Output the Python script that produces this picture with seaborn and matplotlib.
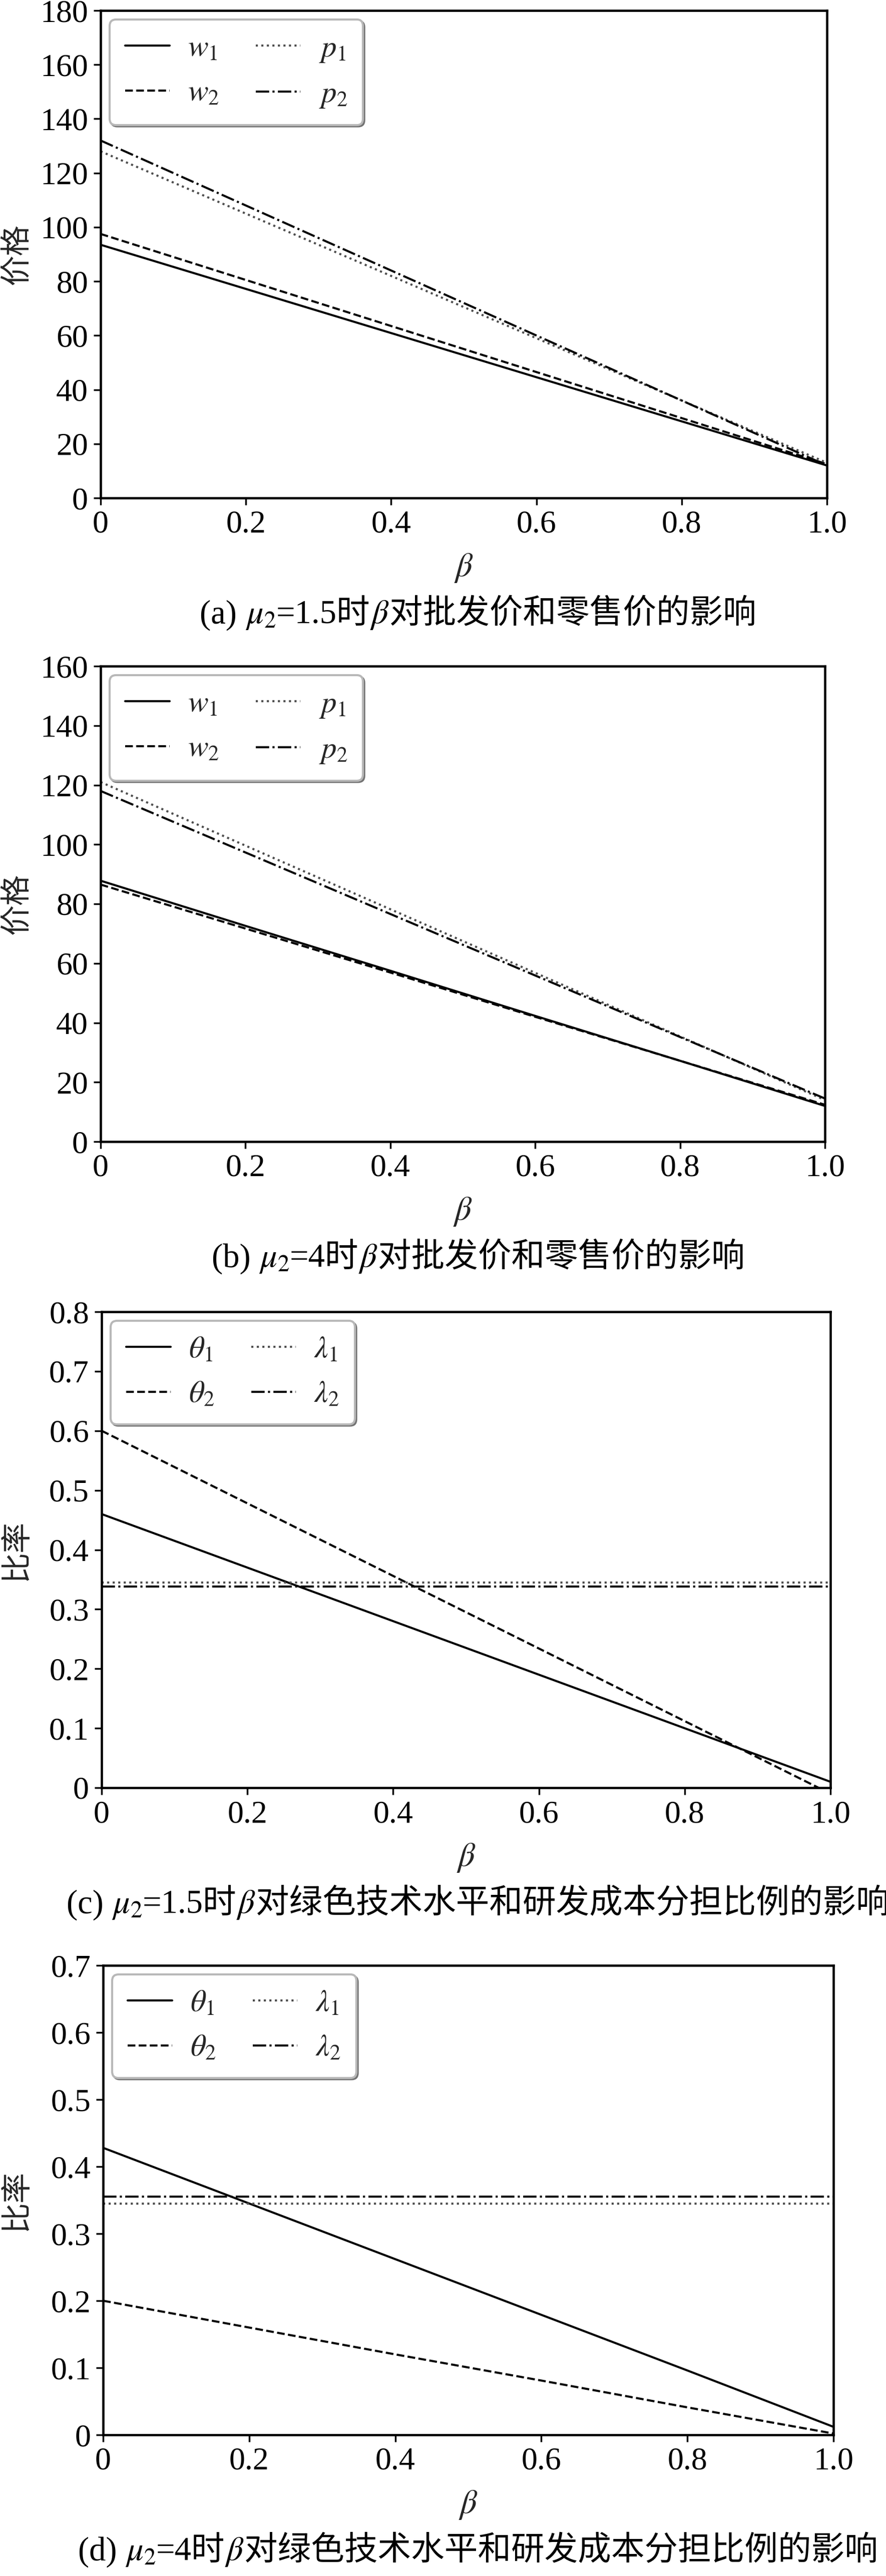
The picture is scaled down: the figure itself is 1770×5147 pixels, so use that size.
import matplotlib
matplotlib.use('Agg')
import matplotlib.pyplot as plt
import seaborn as sns
from matplotlib.offsetbox import TextArea, HPacker, AnchoredOffsetbox

# beta values read along the x axis
beta = [0, 0.2, 0.4, 0.6, 0.8, 1.0]

# (a) mu2 = 1.5, prices
a_w1 = [93.5, 77.2, 60.9, 44.6, 28.3, 12.0]
a_w2 = [97.5, 80.5, 63.5, 46.5, 29.5, 12.5]
a_p1 = [128.0, 105.0, 82.0, 59.0, 36.0, 13.0]
a_p2 = [132.0, 108.0, 84.0, 60.0, 36.0, 12.0]

# (b) mu2 = 4, prices
b_w1 = [87.8, 72.6, 57.5, 42.3, 27.2, 12.0]
b_w2 = [86.5, 71.7, 56.9, 42.0, 27.2, 12.4]
b_p1 = [121.0, 99.6, 78.2, 56.8, 35.4, 14.0]
b_p2 = [118.0, 97.3, 76.6, 55.9, 35.2, 14.5]

# (c) mu2 = 1.5, ratios
c_t1 = [0.460, 0.370, 0.280, 0.190, 0.100, 0.010]
c_t2 = [0.600, 0.478, 0.356, 0.234, 0.112, -0.010]
c_l1 = [0.345, 0.345, 0.345, 0.345, 0.345, 0.345]
c_l2 = [0.338, 0.338, 0.338, 0.338, 0.338, 0.338]

# (d) mu2 = 4, ratios
d_t1 = [0.428, 0.345, 0.262, 0.179, 0.096, 0.012]
d_t2 = [0.200, 0.160, 0.120, 0.081, 0.041, 0.002]
d_l1 = [0.345, 0.345, 0.345, 0.345, 0.345, 0.345]
d_l2 = [0.355, 0.355, 0.355, 0.355, 0.355, 0.355]

price_labels = [r'$w_1$', r'$w_2$', r'$p_1$', r'$p_2$']
ratio_labels = [r'$\theta_1$', r'$\theta_2$', r'$\lambda_1$', r'$\lambda_2$']
xtick_labels = ['0', '0.2', '0.4', '0.6', '0.8', '1.0']

sns.set_theme(style='ticks')
plt.rcParams['font.family'] = ['Liberation Serif', 'Noto Sans CJK SC']
plt.rcParams['mathtext.fontset'] = 'stix'

W, H = 1770, 5147
fig = plt.figure(figsize=(W / 100, H / 100), dpi=100)

SERIF = ['Liberation Serif', 'Noto Sans CJK SC']
CJK = ['Noto Sans CJK SC', 'DejaVu Sans']


def make_ax(l, t, r, b):
    return fig.add_axes([l / W, 1 - b / H, (r - l) / W, (b - t) / H])


def draw(box, series, labels, ymax, ystep, ylab, caption):
    l, t, r, b = box
    ax = make_ax(l, t, r, b)
    styles = ['-', '--', ':', '-.']
    colors = ['black', 'black', '0.3', 'black']
    for vals, lab, ls, c in zip(series, labels, styles, colors):
        sns.lineplot(x=beta, y=vals, ax=ax, color=c, linestyle=ls,
                     linewidth=3, label=lab)
    ax.set_xlim(0, 1)
    ax.set_ylim(0, ymax)
    ax.set_xticks(beta)
    ax.set_xticklabels(xtick_labels)
    n = int(round(ymax / ystep))
    yt = [i * ystep for i in range(n + 1)]
    ax.set_yticks(yt)
    if ystep >= 1:
        ax.set_yticklabels([f'{v:.0f}' for v in yt])
    else:
        ax.set_yticklabels(['0'] + [f'{v:.1f}' for v in yt[1:]])
    ax.tick_params(direction='out', length=10, width=2.5, labelsize=46,
                   pad=8, color='black', labelcolor='black')
    for sp in ax.spines.values():
        sp.set_color('black')
        sp.set_linewidth(3.3)
    ax.grid(False)

    leg = ax.legend(ncol=2, loc='upper left', fontsize=44, frameon=True,
                    fancybox=True, shadow={'color': '0.45', 'alpha': 1},
                    edgecolor='0.72', framealpha=1, handlelength=1.45,
                    handletextpad=0.6, columnspacing=1.2, borderaxespad=0.3,
                    borderpad=0.5, labelspacing=0.55)
    leg.get_frame().set_linewidth(3)

    axw, axh = r - l, b - t
    ax.set_xlabel(r'$\beta$', fontsize=48)
    ax.xaxis.set_label_coords(0.5, -108 / axh)
    ax.set_ylabel(ylab, fontsize=44, family=CJK)
    ax.yaxis.set_label_coords(-(l - 64) / axw, 0.5)

    # caption under the panel
    areas = []
    for txt, fam in caption:
        props = dict(fontsize=48, color='black')
        if fam is not None:
            props['family'] = fam
        areas.append(TextArea(txt, textprops=props))
    pack = HPacker(children=areas, align='baseline', pad=0, sep=0)
    cy = b + 232
    anch = AnchoredOffsetbox(loc='center', child=pack, frameon=False, pad=0,
                             borderpad=0, bbox_to_anchor=(955 / W, 1 - cy / H),
                             bbox_transform=fig.transFigure)
    fig.add_artist(anch)
    return ax


draw((201, 21, 1652, 995), [a_w1, a_w2, a_p1, a_p2], price_labels, 180, 20, '价格',
     [('(a) ', SERIF), (r'$\mu_2$', None), ('=1.5时', SERIF), (r'$\beta$', None),
      ('对批发价和零售价的影响', CJK)])
draw((201, 1331, 1648, 2281), [b_w1, b_w2, b_p1, b_p2], price_labels, 160, 20, '价格',
     [('(b) ', SERIF), (r'$\mu_2$', None), ('=4时', SERIF), (r'$\beta$', None),
      ('对批发价和零售价的影响', CJK)])
draw((203, 2621, 1659, 3572), [c_t1, c_t2, c_l1, c_l2], ratio_labels, 0.8, 0.1, '比率',
     [('(c) ', SERIF), (r'$\mu_2$', None), ('=1.5时', SERIF), (r'$\beta$', None),
      ('对绿色技术水平和研发成本分担比例的影响', CJK)])
draw((206, 3927, 1665, 4865), [d_t1, d_t2, d_l1, d_l2], ratio_labels, 0.7, 0.1, '比率',
     [('(d) ', SERIF), (r'$\mu_2$', None), ('=4时', SERIF), (r'$\beta$', None),
      ('对绿色技术水平和研发成本分担比例的影响', CJK)])

fig.savefig('out.png', dpi=100)
